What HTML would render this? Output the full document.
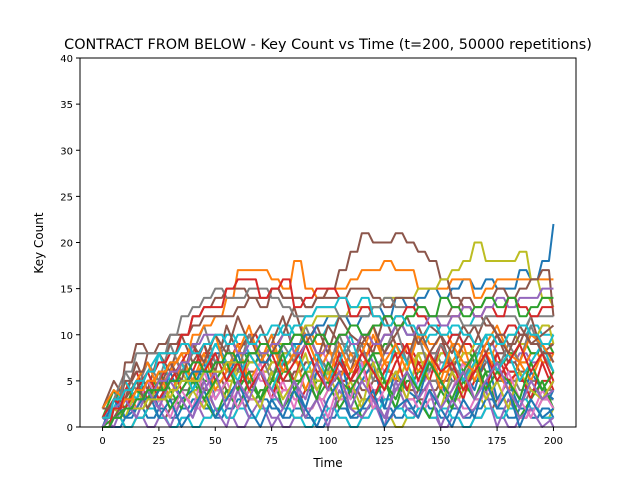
<!DOCTYPE html>
<html><head><meta charset="utf-8"><style>
body{margin:0;background:#fff}
svg text{font-family:"DejaVu Sans","Liberation Sans",sans-serif;fill:#000}
</style></head><body>
<svg id="chart" width="640" height="480" viewBox="0 0 640 480" xmlns="http://www.w3.org/2000/svg">
<rect width="640" height="480" fill="#fff"/>
<text x="328" y="49" font-size="14.4" text-anchor="middle">CONTRACT FROM BELOW - Key Count vs Time (t=200, 50000 repetitions)</text>
<g id="series"></g>
<g id="axes"></g>
<text x="328" y="467" font-size="12" text-anchor="middle">Time</text>
<text x="43" y="243" font-size="12" text-anchor="middle" transform="rotate(-90 43 243)">Key Count</text>
</svg>
<script>
const xTicks=[0,25,50,75,100,125,150,175,200];
const yTicks=[0,5,10,15,20,25,30,35,40];
const times=[];for(let t=0;t<=200;t+=5)times.push(t);
const s1=[0,1,2,3,3,4,5,5,6,6,7,7,8,8,7,8,9,9,10,11,12,12,11,12,13,12,14,13,14,15,14,15,16,15,16,15,15,17,16,18,22];
const s2=[1,2,3,4,5,6,7,8,10,11,12,14,17,17,17,16,15,18,15,14,15,15,16,17,17,18,17,17,15,15,15,16,16,14,15,16,16,16,16,16,16];
const s3=[2,3,7,9,8,8,9,10,12,13,14,15,15,14,13,15,14,14,13,14,15,17,19,21,20,20,21,20,19,18,16,14,13,12,11,10,9,10,9,8,7];
const s4=[0,1,2,2,3,3,4,5,5,6,6,7,7,8,8,9,9,10,11,12,12,12,13,13,13,14,14,14,15,15,16,17,18,20,18,18,18,19,16,14,13];
const s5=[1,3,5,6,8,9,10,10,11,12,12,12,13,14,14,15,14,14,13,14,14,14,15,15,14,13,14,14,13,12,12,13,14,13,14,15,14,15,16,17,12];
const s6=[1,3,6,8,8,8,10,12,13,14,15,14,14,15,15,14,13,12,12,13,13,12,12,12,13,14,13,13,12,12,12,12,11,11,12,12,12,11,12,12,12];
const s7=[0,2,4,5,6,7,8,10,12,13,13,15,16,16,14,15,16,13,14,15,15,14,12,13,12,11,12,13,12,11,11,12,13,12,13,12,14,13,12,13,13];
const s8=[0,1,2,3,4,5,6,7,9,10,10,9,8,9,8,9,10,8,9,8,9,10,9,10,9,10,11,10,11,12,11,12,13,12,13,14,13,14,14,15,15];
const s9=[0,1,2,3,4,4,5,6,7,6,7,8,7,8,9,8,9,10,9,10,9,10,11,10,11,12,11,12,13,12,14,13,12,13,14,13,14,12,13,14,14];
const s10=[1,3,4,5,6,8,8,9,8,9,10,9,10,9,10,11,10,11,12,13,13,14,13,14,12,11,12,11,10,11,10,11,10,9,10,9,10,11,10,9,10];
const l1=[0,2,3,4,5,6,5,7,6,7,8,7,6,7,8,9,8,7,6,7,6,5,6,7,6,5,6,7,8,7,6,5,6,5,4,5,6,5,4,3,4];
const l2=[1,2,3,3,4,5,6,7,8,7,6,5,6,7,8,9,10,11,10,9,8,7,8,9,8,7,8,9,10,9,10,9,8,7,8,9,8,9,10,9,9];
const l3=[0,1,2,1,2,3,4,3,4,5,6,7,8,7,8,7,6,5,6,5,4,5,6,7,8,9,8,7,6,5,6,7,8,7,6,5,6,7,8,7,6];
const l4=[0,1,0,1,2,1,2,3,2,3,4,3,2,3,4,5,4,3,4,5,6,5,4,3,4,3,2,3,4,5,4,3,4,5,6,7,6,5,4,5,6];
const l5=[1,2,3,4,5,6,7,6,5,6,7,8,9,8,7,8,9,10,11,10,9,8,9,8,7,8,9,8,7,8,9,10,9,8,9,8,7,8,7,8,7];
const l6=[0,1,2,3,2,1,2,3,4,3,2,1,2,3,2,3,4,5,4,3,2,3,4,3,2,1,2,3,4,5,4,3,2,1,2,3,2,1,2,3,2];
const l7=[1,2,3,4,3,4,5,4,5,6,5,6,7,6,5,4,5,6,7,8,7,6,5,6,7,6,5,4,5,6,7,6,5,6,7,6,5,6,5,4,5];
const l8=[0,1,2,1,2,3,2,3,4,5,6,5,4,5,6,7,8,7,6,7,8,9,8,7,6,5,4,5,6,5,4,5,4,3,4,5,4,3,4,3,3];
const l9=[0,1,0,1,2,3,2,3,4,3,4,5,4,3,2,3,2,1,2,3,4,3,2,3,2,1,0,1,2,3,2,3,4,3,2,1,2,1,2,1,2];
const l10=[1,2,3,4,5,6,7,8,7,8,9,10,9,8,9,10,11,10,9,10,11,12,11,10,9,10,11,10,9,10,11,10,11,12,11,10,11,10,11,10,10];
const l11=[0,0,1,2,1,2,1,2,3,2,1,2,3,4,3,2,1,2,1,0,1,2,1,2,3,2,1,2,3,2,1,2,1,2,3,2,1,2,1,2,1];
const l12=[1,1,2,3,4,5,6,5,6,7,6,7,6,5,6,7,6,5,6,7,8,7,6,7,6,7,8,7,8,7,6,7,8,9,8,7,8,7,8,7,8];
const l13=[0,1,2,3,4,5,4,5,6,5,4,5,4,3,4,5,6,5,4,5,6,7,6,5,4,3,4,5,6,7,8,7,6,5,6,7,8,9,8,9,8];
const l14=[1,2,3,4,5,4,5,6,7,8,7,8,9,10,9,8,7,8,9,8,9,10,9,8,9,10,9,8,7,8,9,10,9,8,9,10,11,10,9,8,8];
const l15=[0,1,2,1,0,1,0,1,2,1,2,1,0,1,2,1,0,1,2,3,2,1,0,1,2,1,2,3,2,1,0,1,0,1,2,1,0,1,2,1,0];
const l16=[1,2,3,2,3,4,5,6,5,4,5,4,5,6,7,6,5,6,7,6,5,6,5,4,5,6,5,4,3,4,5,6,5,6,7,8,7,6,5,4,5];
const l17=[0,1,2,3,2,3,2,3,2,3,4,3,4,3,2,3,4,3,2,3,4,3,4,5,4,3,4,3,2,3,4,3,2,3,4,3,2,1,2,3,2];
const l18=[1,2,3,4,5,4,3,4,5,6,7,6,7,8,7,6,7,8,9,10,9,8,9,10,11,12,11,10,9,8,7,6,7,8,7,6,5,4,5,4,4];
const l19=[0,1,2,3,4,3,4,5,6,7,6,5,6,7,6,7,8,7,6,5,6,7,6,5,6,5,6,7,8,7,8,7,8,9,10,9,10,9,10,11,9];
const l20=[0,1,0,1,2,1,0,1,0,1,2,1,2,1,2,3,2,1,0,1,2,1,0,1,2,3,2,1,2,1,2,1,0,1,2,1,2,3,2,1,1];
const m1=[2,4,1,3,5,2,6,3,4,7,3,5,8,4,6,3,7,5,2,6,4,8,3,5,7,2,6,4,3,7,5,2,6,4,8,3,5,2,6,4,3];
const m2=[0,3,5,2,4,6,3,7,5,8,4,6,9,5,7,10,6,8,4,7,9,5,8,6,10,7,5,9,6,8,4,7,9,5,8,6,4,7,5,8,6];
const m3=[1,4,2,5,3,6,4,2,5,3,1,4,2,5,3,6,2,4,1,3,5,2,4,1,3,5,2,6,3,1,4,2,5,3,6,2,4,1,3,5,2];
const m4=[0,2,4,6,3,5,7,4,6,9,5,7,4,8,6,3,7,5,9,6,4,8,5,7,3,6,8,4,7,5,9,6,3,7,4,8,5,6,3,7,4];
const m5=[1,0,3,1,4,2,0,3,1,5,2,0,4,1,3,0,2,5,1,3,0,4,2,1,3,0,5,2,1,4,0,3,1,2,4,0,3,1,2,0,1];
const m6=[2,5,3,7,4,8,6,10,7,9,6,11,8,10,7,9,12,8,10,7,11,9,6,10,8,12,9,7,11,8,10,6,9,11,8,10,7,9,12,8,9];
const m7=[0,1,3,2,5,3,1,4,2,6,3,5,2,4,7,3,5,2,6,4,1,5,3,7,2,4,6,3,1,5,2,4,7,3,5,2,6,3,1,4,2];
const m8=[1,3,6,4,7,5,9,6,8,11,7,9,6,10,8,5,9,7,11,8,6,10,7,9,5,8,11,7,10,6,9,7,5,8,10,6,9,7,11,8,6];
const m9=[0,2,1,4,2,5,3,6,4,2,5,3,7,4,2,6,3,5,8,4,6,3,5,2,7,4,6,3,8,5,2,6,4,7,3,5,2,6,4,3,5];
const m10=[1,2,5,3,6,8,5,7,4,6,9,7,5,8,6,4,7,9,6,8,5,7,10,6,8,5,9,7,4,8,6,9,5,7,10,6,8,5,7,9,6];
const m11=[0,3,1,2,4,1,3,0,2,4,1,3,5,2,0,3,1,4,2,0,3,5,1,2,4,0,2,3,1,4,2,0,3,1,5,2,4,0,3,1,2];
const m12=[2,4,3,5,7,4,6,8,5,7,10,6,8,11,7,9,6,8,10,7,5,9,6,8,11,7,9,6,10,8,5,9,7,6,9,11,8,7,10,9,7];
const m13=[0,1,2,4,3,5,2,4,6,3,5,7,4,6,3,5,8,4,6,3,7,5,4,6,8,5,3,6,4,7,5,3,6,8,4,6,5,3,7,4,6];
const m14=[1,3,2,4,6,3,5,7,9,6,8,5,7,4,6,8,5,7,9,6,4,7,5,8,6,4,7,9,5,8,6,7,4,6,8,5,7,9,6,8,5];
const m15=[0,2,3,1,4,2,5,3,1,4,6,2,5,3,6,4,2,5,3,7,4,6,2,5,3,1,4,6,3,5,2,4,6,3,5,7,4,2,5,3,4];
const m16=[1,1,3,5,2,4,7,5,9,7,10,8,12,9,11,8,10,13,9,11,8,12,10,9,11,8,10,12,9,11,10,8,11,9,12,10,8,11,9,10,11];
const seriesList=[s1,s2,s3,s4,s5,s6,s7,s8,s9,s10,l1,l2,l3,l4,l5,l6,l7,l8,l9,l10,l11,l12,l13,l14,l15,l16,l17,l18,l19,l20,m1,m2,m3,m4,m5,m6,m7,m8,m9,m10,m11,m12,m13,m14,m15,m16];
const palette=['#1f77b4','#ff7f0e','#8c564b','#bcbd22','#8c564b','#7f7f7f','#d62728','#9467bd','#2ca02c','#17becf'];
const palette2=['#1f77b4','#ff7f0e','#2ca02c','#d62728','#9467bd','#8c564b','#e377c2','#7f7f7f','#bcbd22','#17becf'];
const X0=80,X1=576,Y0=58,Y1=427;
const xs=t=>X0+(t+10)/220*(X1-X0);
const ys=v=>Y1-v/40*(Y1-Y0);
const NS='http://www.w3.org/2000/svg';
const g=document.getElementById('series');
const order=[...seriesList.keys()].slice(10).concat([0,1,2,3,4,5,6,7,8,9]);
order.forEach(i=>{
  const s=seriesList[i];
  const zig=i>=30;
  let d='M'+xs(times[0])+','+ys(s[0]);
  for(let k=1;k<s.length;k++){
    if(zig){d+=' L'+xs(times[k])+','+ys(s[k]);}
    else{d+=' L'+xs(times[k]-2)+','+ys(s[k-1])+' L'+xs(times[k])+','+ys(s[k]);}
  }
  const p=document.createElementNS(NS,'path');
  p.setAttribute('d',d);
  p.setAttribute('fill','none');
  p.setAttribute('stroke',i<10?palette[i]:palette2[(i-10)%10]);
  p.setAttribute('stroke-width','2');
  p.setAttribute('stroke-linejoin','round');
  
  
  g.appendChild(p);
});
const ax=document.getElementById('axes');
function el(tag,attrs,txt){const e=document.createElementNS(NS,tag);for(const k in attrs)e.setAttribute(k,attrs[k]);if(txt!==undefined)e.textContent=txt;ax.appendChild(e);return e;}
const frame=el('rect',{x:X0,y:Y0,width:X1-X0,height:Y1-Y0,fill:'none',stroke:'#000','stroke-width':1});


xTicks.forEach(t=>{
  const ln=el('line',{x1:xs(t),x2:xs(t),y1:Y1,y2:Y1+4,stroke:'#000'});
  
  
  const tx=el('text',{x:xs(t),y:Y1+17,'font-size':10,'text-anchor':'middle'},String(t));
  
  
});
yTicks.forEach(v=>{
  const ln=el('line',{x1:X0-4,x2:X0,y1:ys(v),y2:ys(v),stroke:'#000'});
  
  
  const tx=el('text',{x:X0-7,y:ys(v)+4,'font-size':10,'text-anchor':'end'},String(v));
  
  
});
</script>
</body></html>
